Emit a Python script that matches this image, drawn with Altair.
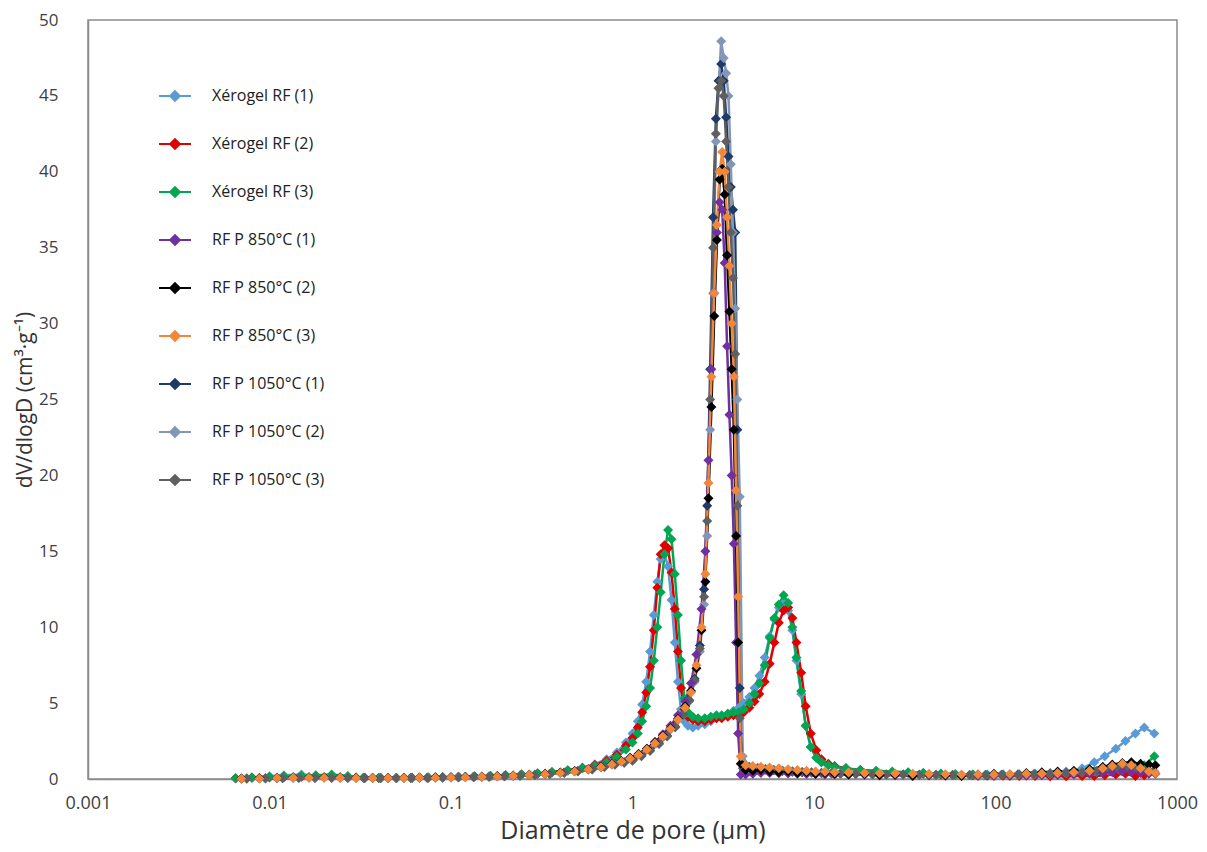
import altair as alt
import pandas as pd

SERIES = ["Xérogel RF (1)", "Xérogel RF (2)", "Xérogel RF (3)",
          "RF P 850°C (1)", "RF P 850°C (2)", "RF P 850°C (3)",
          "RF P 1050°C (1)", "RF P 1050°C (2)", "RF P 1050°C (3)"]
COLORS = ["#5b9bd5", "#e00000", "#00a650",
          "#7030a0", "#000000", "#f0873a",
          "#1f3a68", "#8496b8", "#5f5f5f"]

X_TICKS = [0.001, 0.01, 0.1, 1, 10, 100, 1000]
Y_TICKS = [0, 5, 10, 15, 20, 25, 30, 35, 40, 45, 50]

# ---- Xerogel diameters (µm)
X_XERO = [0.0065, 0.008, 0.01, 0.012, 0.015, 0.018, 0.022, 0.027, 0.033, 0.04,
          0.05, 0.06, 0.075, 0.09, 0.11, 0.135, 0.165, 0.2, 0.245, 0.3,
          0.36, 0.44, 0.53, 0.62, 0.72, 0.82, 0.92,
          1.0, 1.07, 1.13, 1.19, 1.25, 1.31, 1.37, 1.43, 1.5, 1.57,
          1.64, 1.71, 1.78, 1.85, 1.93, 2.02, 2.15, 2.3, 2.5, 2.7,
          2.9, 3.1, 3.35, 3.6, 3.85, 4.1, 4.4, 4.7, 5.0, 5.35,
          5.7, 6.05, 6.4, 6.8, 7.2, 7.6, 8.0, 8.5, 9.0, 9.6,
          10.3, 11.0, 12.0, 13.0,
          15, 18, 22, 27, 33, 40, 50, 60, 75, 90,
          110, 135, 165, 200, 245, 300, 350, 400, 460, 520,
          590, 660, 750]
XERO_1 = [0.05, 0.1, 0.18, 0.25, 0.3, 0.22, 0.15, 0.1, 0.08, 0.07,
          0.07, 0.08, 0.1, 0.12, 0.14, 0.17, 0.2, 0.25, 0.3, 0.37,
          0.46, 0.58, 0.75, 0.97, 1.3, 1.75, 2.4,
          3.0, 3.8, 4.9, 6.4, 8.4, 10.8, 13.0, 14.5, 14.8, 14.0,
          11.8, 9.0, 6.4, 4.6, 3.8, 3.5, 3.4, 3.5, 3.6, 3.8,
          4.0, 4.1, 4.3, 4.5, 4.7, 5.0, 5.4, 6.0, 6.8, 8.0,
          9.4, 10.5, 11.3, 11.6, 11.1, 9.8, 7.8, 5.6, 3.5, 2.1,
          1.4, 1.1, 0.9, 0.8,
          0.7, 0.6, 0.5, 0.45, 0.42, 0.4, 0.36, 0.33, 0.3, 0.3,
          0.3, 0.32, 0.35, 0.4, 0.5, 0.7, 1.1, 1.5, 2.0, 2.5,
          3.0, 3.4, 3.0]
XERO_2 = [0.05, 0.08, 0.1, 0.12, 0.14, 0.15, 0.13, 0.1, 0.07, 0.06,
          0.06, 0.07, 0.09, 0.11, 0.13, 0.16, 0.19, 0.24, 0.29, 0.36,
          0.44, 0.56, 0.72, 0.92, 1.2, 1.6, 2.2,
          2.7, 3.4, 4.4, 5.7, 7.4, 9.8, 12.6, 14.8, 15.4, 15.2,
          13.6, 11.2, 8.4, 6.0, 4.6, 4.1, 3.9, 3.8, 3.8, 3.9,
          4.0, 4.0, 4.1, 4.2, 4.3, 4.4, 4.7, 5.1, 5.6, 6.4,
          7.6, 9.0, 10.3, 11.1, 11.3, 10.6, 9.0, 7.0, 4.8, 3.0,
          1.9, 1.3, 1.0, 0.85,
          0.7, 0.6, 0.5, 0.45, 0.4, 0.35, 0.3, 0.28, 0.25, 0.22,
          0.22, 0.2, 0.2, 0.18, 0.18, 0.2, 0.2, 0.25, 0.3, 0.35,
          0.2, 0.25, 0.5]
XERO_3 = [0.05, 0.1, 0.15, 0.18, 0.22, 0.25, 0.3, 0.2, 0.1, 0.08,
          0.07, 0.08, 0.1, 0.12, 0.14, 0.17, 0.2, 0.25, 0.3, 0.37,
          0.45, 0.56, 0.7, 0.87, 1.1, 1.45, 1.95,
          2.4, 3.0, 3.8, 4.8, 6.0, 7.8, 10.0, 12.3, 14.8, 16.4,
          15.8, 13.5, 10.8, 7.8, 5.3, 4.4, 4.1, 4.0, 4.0, 4.1,
          4.2, 4.2, 4.3, 4.4, 4.4, 4.6, 5.0, 5.6, 6.3, 7.5,
          9.3, 10.6, 11.5, 12.1, 11.6, 10.0, 8.0, 5.8, 3.5, 2.1,
          1.4, 1.1, 0.9, 0.8,
          0.7, 0.6, 0.55, 0.5, 0.45, 0.4, 0.35, 0.3, 0.3, 0.28,
          0.3, 0.3, 0.32, 0.35, 0.38, 0.42, 0.5, 0.6, 0.7, 0.75,
          0.8, 0.9, 1.5]

# ---- RF P 850 °C diameters (µm)
X_850 = [0.007, 0.0088, 0.011, 0.0135, 0.0165, 0.02, 0.0245, 0.03, 0.037, 0.045,
         0.055, 0.067, 0.082, 0.1, 0.12, 0.148, 0.18, 0.22, 0.27, 0.33,
         0.4, 0.48, 0.57, 0.67, 0.77, 0.87, 0.97,
         1.08, 1.2, 1.33, 1.47, 1.62, 1.78, 1.95, 2.1, 2.25, 2.4,
         2.52, 2.62, 2.72, 2.82, 2.92, 3.02, 3.12, 3.22, 3.32, 3.42,
         3.52, 3.62, 3.72, 3.82, 3.95, 4.2, 4.6, 5.1, 5.7, 6.4,
         7.2, 8.1, 9.1, 10.2, 11.5, 13,
         15.5, 19, 23, 28, 35, 43, 53, 65, 80, 98,
         120, 148, 180, 220, 270, 330, 390, 440, 500, 560,
         630, 700, 760]
P850_1 = [0.03, 0.05, 0.07, 0.09, 0.1, 0.1, 0.09, 0.08, 0.07, 0.07,
          0.08, 0.09, 0.1, 0.11, 0.13, 0.15, 0.18, 0.22, 0.27, 0.33,
          0.41, 0.51, 0.63, 0.79, 0.97, 1.17, 1.38,
          1.65, 2.0, 2.45, 2.95, 3.5, 4.2, 5.1, 6.3, 8.2, 11.2,
          15.0, 21.0, 27.0, 32.0, 36.0, 38.0, 37.5, 34.0, 28.5, 24.0,
          20.0, 15.5, 9.0, 3.0, 0.3, 0.3, 0.35, 0.4, 0.4, 0.38,
          0.36, 0.35, 0.33, 0.32, 0.3, 0.3,
          0.3, 0.28, 0.26, 0.25, 0.24, 0.23, 0.22, 0.22, 0.2, 0.2,
          0.2, 0.22, 0.24, 0.26, 0.3, 0.35, 0.4, 0.45, 0.5, 0.45,
          0.4, 0.35, 0.35]
P850_2 = [0.03, 0.06, 0.09, 0.11, 0.12, 0.12, 0.11, 0.1, 0.09, 0.08,
          0.09, 0.1, 0.11, 0.12, 0.14, 0.16, 0.19, 0.23, 0.28, 0.34,
          0.42, 0.52, 0.64, 0.8, 0.98, 1.18, 1.4,
          1.65, 2.0, 2.4, 2.85, 3.35, 3.95, 4.8, 5.8, 7.3, 9.8,
          13.0, 18.5, 24.5, 30.5, 35.5, 39.5, 40.2, 38.5, 34.5, 30.8,
          27.0, 23.0, 16.0, 9.0, 1.0, 0.6, 0.55, 0.6, 0.5, 0.45,
          0.5, 0.4, 0.45, 0.35, 0.4, 0.35,
          0.3, 0.35, 0.25, 0.3, 0.2, 0.3, 0.25, 0.2, 0.3, 0.35,
          0.3, 0.4, 0.45, 0.5, 0.55, 0.65, 0.8, 0.95, 1.05, 1.1,
          1.0, 0.95, 0.9]
P850_3 = [0.02, 0.04, 0.06, 0.08, 0.09, 0.09, 0.08, 0.07, 0.06, 0.06,
          0.07, 0.08, 0.09, 0.1, 0.12, 0.14, 0.17, 0.21, 0.26, 0.32,
          0.4, 0.5, 0.62, 0.78, 0.95, 1.15, 1.35,
          1.6, 1.95, 2.35, 2.8, 3.3, 3.9, 4.7, 5.7, 7.5, 10.0,
          13.5, 19.5, 26.5, 32.0, 36.5, 40.0, 41.3, 40.0, 37.0, 33.8,
          30.0, 26.5, 19.0, 12.0, 1.5, 0.9, 0.85, 0.8, 0.75, 0.7,
          0.65, 0.6, 0.55, 0.5, 0.48, 0.45,
          0.42, 0.4, 0.38, 0.36, 0.34, 0.33, 0.32, 0.3, 0.3, 0.3,
          0.32, 0.34, 0.36, 0.4, 0.45, 0.55, 0.7, 0.85, 1.0, 0.9,
          0.7, 0.5, 0.4]

# ---- RF P 1050 °C diameters (µm)
X_1050 = [0.0075, 0.0095, 0.0118, 0.0145, 0.0178, 0.022, 0.027, 0.0335, 0.041, 0.05,
          0.061, 0.074, 0.09, 0.11, 0.133, 0.162, 0.197, 0.24, 0.29, 0.35,
          0.42, 0.5, 0.6, 0.7, 0.8, 0.9,
          1.0, 1.12, 1.25, 1.4, 1.55, 1.72, 1.9, 2.05, 2.2, 2.35,
          2.48, 2.58, 2.68, 2.78, 2.88, 2.98, 3.08, 3.18, 3.28, 3.38,
          3.48, 3.58, 3.68, 3.78, 3.9, 4.05, 4.4, 4.9, 5.4, 6.0,
          6.7, 7.6, 8.6, 9.7, 11, 12.5, 14,
          17, 21, 25, 31, 38, 47, 58, 72, 88, 108,
          133, 163, 200, 245, 300, 360, 420, 480, 540, 610,
          680, 740]
P1050_1 = [0.03, 0.05, 0.07, 0.08, 0.09, 0.09, 0.08, 0.07, 0.07, 0.07,
           0.08, 0.09, 0.1, 0.12, 0.14, 0.16, 0.19, 0.23, 0.28, 0.34,
           0.42, 0.52, 0.66, 0.82, 0.98, 1.1,
           1.25, 1.55, 1.9, 2.35, 2.85, 3.45, 4.25, 5.2, 6.6, 8.8,
           12.5, 18.0, 27.0, 37.0, 43.5, 46.0, 47.1, 46.0, 43.6, 41.0,
           39.0, 37.5, 36.0, 23.0, 6.0, 0.9, 0.8, 0.7, 0.65, 0.6,
           0.55, 0.5, 0.45, 0.42, 0.4, 0.38, 0.36,
           0.34, 0.32, 0.3, 0.3, 0.28, 0.28, 0.27, 0.27, 0.27, 0.28,
           0.3, 0.32, 0.35, 0.4, 0.45, 0.5, 0.6, 0.7, 0.75, 0.7,
           0.6, 0.5]
P1050_2 = [0.03, 0.05, 0.06, 0.07, 0.08, 0.08, 0.08, 0.07, 0.07, 0.07,
           0.08, 0.09, 0.1, 0.11, 0.13, 0.15, 0.18, 0.22, 0.27, 0.33,
           0.4, 0.5, 0.63, 0.78, 0.94, 1.06,
           1.2, 1.5, 1.85, 2.3, 2.8, 3.4, 4.2, 5.1, 6.4, 8.4,
           11.5, 16.0, 23.0, 32.0, 42.0, 45.5, 48.6, 47.5, 46.5, 45.0,
           40.5, 36.0, 31.0, 25.0, 18.6, 1.5, 0.8, 0.7, 0.65, 0.6,
           0.55, 0.5, 0.46, 0.43, 0.4, 0.38, 0.36,
           0.34, 0.32, 0.3, 0.3, 0.28, 0.27, 0.27, 0.26, 0.26, 0.27,
           0.28, 0.3, 0.33, 0.37, 0.42, 0.48, 0.55, 0.62, 0.68, 0.65,
           0.58, 0.5]
P1050_3 = [0.03, 0.05, 0.07, 0.08, 0.09, 0.09, 0.08, 0.08, 0.07, 0.07,
           0.08, 0.09, 0.1, 0.12, 0.13, 0.15, 0.18, 0.22, 0.27, 0.33,
           0.41, 0.51, 0.64, 0.8, 0.96, 1.08,
           1.22, 1.52, 1.88, 2.32, 2.82, 3.42, 4.22, 5.15, 6.5, 8.6,
           12.0, 17.0, 25.0, 35.0, 42.5, 45.5, 46.0, 45.0, 42.0, 39.0,
           36.0, 33.0, 28.0, 18.0, 4.0, 0.7, 0.75, 0.7, 0.62, 0.58,
           0.52, 0.48, 0.45, 0.42, 0.4, 0.37, 0.35,
           0.33, 0.31, 0.3, 0.29, 0.28, 0.27, 0.26, 0.26, 0.26, 0.27,
           0.29, 0.31, 0.34, 0.38, 0.43, 0.5, 0.58, 0.65, 0.7, 0.66,
           0.58, 0.5]

rows = []


def add(name, xs, ys):
    assert len(xs) == len(ys), (name, len(xs), len(ys))
    for x, y in zip(xs, ys):
        rows.append({"serie": name, "d": x, "v": y})


# drawing order: xerogels, 1050 °C, then 850 °C on top
add(SERIES[0], X_XERO, XERO_1)
add(SERIES[1], X_XERO, XERO_2)
add(SERIES[2], X_XERO, XERO_3)
add(SERIES[6], X_1050, P1050_1)
add(SERIES[7], X_1050, P1050_2)
add(SERIES[8], X_1050, P1050_3)
add(SERIES[3], X_850, P850_1)
add(SERIES[4], X_850, P850_2)
add(SERIES[5], X_850, P850_3)
df = pd.DataFrame(rows)

FONT = "Open Sans"

legend = alt.Legend(
    title=None, orient="none", legendX=70, legendY=59,
    symbolType="M-1,0H1M0,-0.3L0.3,0L0,0.3L-0.3,0Z",
    symbolSize=1024, symbolStrokeWidth=2,
    rowPadding=22, labelFont=FONT, labelFontSize=16, labelColor="#222222",
    labelOffset=20, padding=0,
)

chart = alt.Chart(df).mark_line(
    strokeWidth=2.5,
    point=alt.OverlayMarkDef(shape="diamond", size=100, filled=True, opacity=1),
).encode(
    x=alt.X("d:Q",
            scale=alt.Scale(type="log", domain=[0.001, 1000], nice=False),
            axis=alt.Axis(values=X_TICKS, format="~g", title="Diamètre de pore (µm)",
                          ticks=False, grid=False, domainColor="#8c8c8c", domainWidth=1.5,
                          labelFont=FONT, labelFontSize=18, labelColor="#404040",
                          labelPadding=15, labelFlush=False,
                          titleFont=FONT, titleFontSize=25, titleFontWeight="normal",
                          titleColor="#333333", titlePadding=6)),
    y=alt.Y("v:Q",
            scale=alt.Scale(domain=[0, 50], nice=False),
            axis=alt.Axis(values=Y_TICKS, title="dV/dlogD (cm³·g⁻¹)",
                          ticks=False, grid=False, domainColor="#8c8c8c", domainWidth=1.5,
                          labelFont=FONT, labelFontSize=17, labelColor="#404040",
                          labelPadding=30, labelFlush=False,
                          titleFont=FONT, titleFontSize=21, titleFontWeight="normal",
                          titleColor="#333333", titlePadding=3)),
    color=alt.Color("serie:N", scale=alt.Scale(domain=SERIES, range=COLORS), legend=legend,
                    sort=SERIES),
).properties(
    width=1089, height=759,
    autosize=alt.AutoSizeParams(type="none"),
    padding={"left": 80, "top": 12, "right": 22, "bottom": 65},
    background="white",
).configure_view(
    stroke="#8c8c8c", strokeWidth=1.5,
)

chart.save("out.html", embed_options={"renderer": "svg", "actions": False})
